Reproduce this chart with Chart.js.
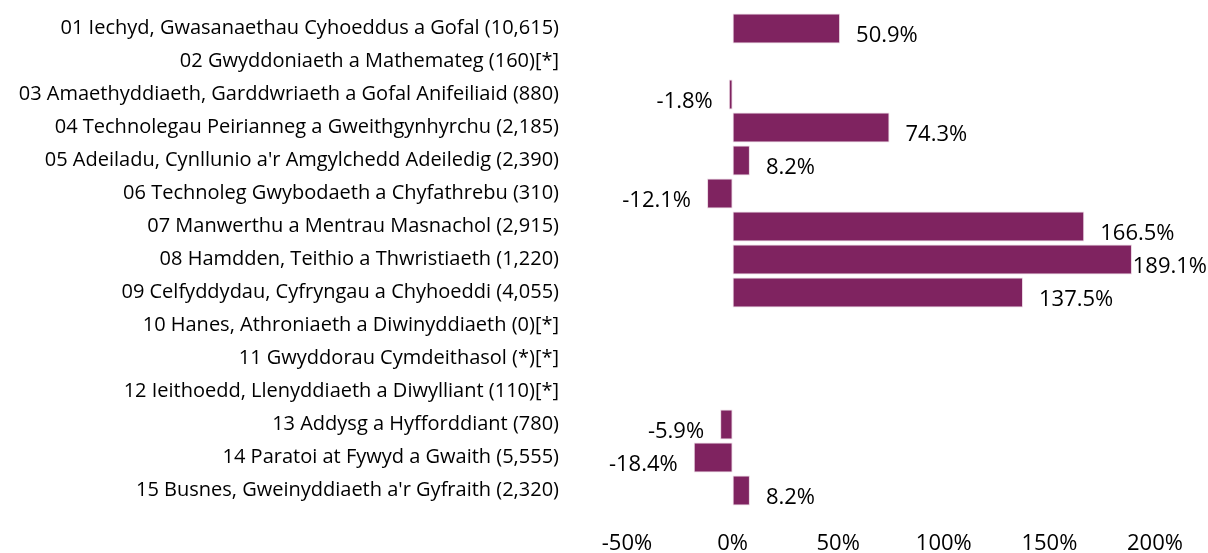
<!DOCTYPE html>
<html>
<head>
<meta charset="utf-8">
<script src="https://cdn.jsdelivr.net/npm/chart.js@4"></script>
<style>
  html, body { margin: 0; padding: 0; background: #fff; }
  #wrap { width: 1208px; height: 553px; }
</style>
</head>
<body>
<div id="wrap"><canvas id="chart" width="1208" height="553"></canvas></div>
<script>
// categories (left hand labels)
const categories = [
  "01 Iechyd, Gwasanaethau Cyhoeddus a Gofal (10,615)",
  "02 Gwyddoniaeth a Mathemateg (160)[*]",
  "03 Amaethyddiaeth, Garddwriaeth a Gofal Anifeiliaid (880)",
  "04 Technolegau Peirianneg a Gweithgynhyrchu (2,185)",
  "05 Adeiladu, Cynllunio a'r Amgylchedd Adeiledig (2,390)",
  "06 Technoleg Gwybodaeth a Chyfathrebu (310)",
  "07 Manwerthu a Mentrau Masnachol (2,915)",
  "08 Hamdden, Teithio a Thwristiaeth (1,220)",
  "09 Celfyddydau, Cyfryngau a Chyhoeddi (4,055)",
  "10 Hanes, Athroniaeth a Diwinyddiaeth (0)[*]",
  "11 Gwyddorau Cymdeithasol (*)[*]",
  "12 Ieithoedd, Llenyddiaeth a Diwylliant (110)[*]",
  "13 Addysg a Hyfforddiant (780)",
  "14 Paratoi at Fywyd a Gwaith (5,555)",
  "15 Busnes, Gweinyddiaeth a'r Gyfraith (2,320)"
];

// percentage change, null where suppressed
const changePct = [50.9, null, -1.8, 74.3, 8.2, -12.1, 166.5, 189.1, 137.5, null, null, null, -5.9, -18.4, 8.2];

// x axis ticks
const xTicks = [-50, 0, 50, 100, 150, 200];

const barColour = "#7f2360";
const fontFamily = "'Open Sans', 'Noto Sans', sans-serif";

// simple data label plugin, value next to the end of each bar
const valueLabels = {
  id: "valueLabels",
  afterDatasetsDraw(chart) {
    const ctx = chart.ctx;
    const meta = chart.getDatasetMeta(0);
    ctx.save();
    ctx.font = "22px " + fontFamily;
    ctx.fillStyle = "#000";
    ctx.textBaseline = "middle";
    meta.data.forEach((bar, i) => {
      const v = changePct[i];
      if (v === null) return;
      const text = v.toFixed(1) + "%";
      const w = ctx.measureText(text).width;
      const y = bar.y + 7;
      if (v >= 0) {
        let x = bar.x + 16;
        if (x + w > chart.width - 1) x = Math.max(bar.x, chart.width - 1 - w);
        ctx.textAlign = "left";
        ctx.fillText(text, x, y);
      } else {
        ctx.textAlign = "right";
        ctx.fillText(text, bar.x - 16, y);
      }
    });
    ctx.restore();
  }
};

new Chart(document.getElementById("chart"), {
  type: "bar",
  data: {
    labels: categories,
    datasets: [{
      data: changePct,
      backgroundColor: barColour,
      borderColor: "#ead6e2",
      borderWidth: 1,
      borderSkipped: false,
      categoryPercentage: 0.91,
      barPercentage: 1.0
    }]
  },
  options: {
    indexAxis: "y",
    responsive: false,
    animation: false,
    layout: { padding: { top: 12, right: 53, bottom: 0, left: 0 } },
    plugins: {
      legend: { display: false },
      tooltip: { enabled: false }
    },
    scales: {
      x: {
        min: -50,
        max: 200,
        afterBuildTicks(axis) {
          axis.ticks = xTicks.map(v => ({ value: v }));
        },
        afterFit(axis) { axis.height = 46; },
        // grid hidden; tickLength only used to push the labels down
        grid: { display: false, drawTicks: true, tickLength: 20 },
        border: { display: false },
        ticks: {
          padding: 4,
          color: "#000",
          font: { family: fontFamily, size: 22 },
          callback: v => v + "%"
        }
      },
      y: {
        afterFit(axis) { axis.width = 627; },
        grid: { display: false, drawTicks: true, tickLength: 68 },
        border: { display: false },
        ticks: {
          padding: 0,
          autoSkip: false,
          color: "#000",
          font: { family: fontFamily, size: 20 }
        }
      }
    }
  },
  plugins: [valueLabels]
});
</script>
</body>
</html>
